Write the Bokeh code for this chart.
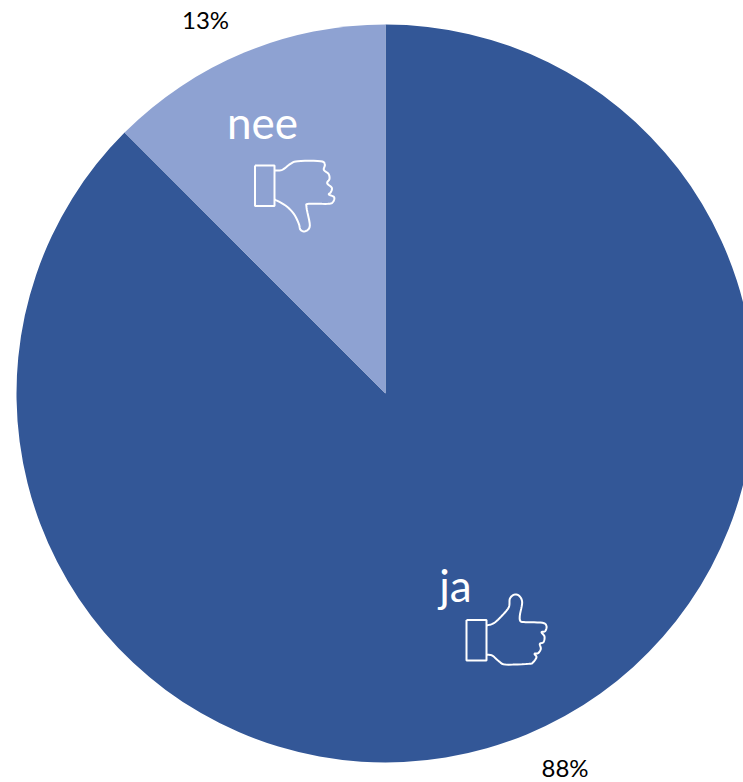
from bokeh.plotting import figure
from bokeh.embed import file_html
from bokeh.resources import INLINE
from bokeh.core.properties import value
import numpy as np

categories = ["ja", "nee"]
shares = [87.5, 12.5]
pct_labels = ["88%", "13%"]
colors = ["#335797", "#8EA2D2"]

CX, CY, R = 385, 393, 369
W, H = 743, 782
FONT = "Lato"

p = figure(width=W, height=H, x_range=(-CX, W - CX), y_range=(CY - H, CY),
           output_backend="svg", toolbar_location=None, min_border=0,
           outline_line_color=None, background_fill_color="white")
p.axis.visible = False
p.grid.visible = False

def X(x): return [v - CX for v in x]
def Y(y): return [CY - v for v in y]

fr = np.cumsum([0] + shares) / sum(shares)
starts = np.pi / 2 - 2 * np.pi * fr[:-1]
ends = np.pi / 2 - 2 * np.pi * fr[1:]
p.wedge(x=[0, 0], y=[0, 0], radius=R, start_angle=ends, end_angle=starts,
        fill_color=colors, line_color=None)

def smooth(pts, n=6):
    pts = np.array(pts, float)
    q = np.vstack([pts[0], pts, pts[-1]])
    out = []
    for i in range(1, len(q) - 2):
        a, b, c, d = q[i - 1], q[i], q[i + 1], q[i + 2]
        for t in np.linspace(0, 1, n, endpoint=False):
            out.append(0.5 * (2 * b + (c - a) * t + (2 * a - 5 * b + 4 * c - d) * t**2 + (3 * b - a - 3 * c + d) * t**3))
    out.append(pts[-1])
    return np.array(out)

down = [(192,240),(215,238),(240,220),(262,212),(330,212),(343,222),(340,238),(354,250),(357,265),(350,278),
        (364,292),(361,305),(355,312),(371,320),(367,335),(352,340),(295,340),(288,350),(298,405),(285,422),
        (270,418),(265,400),(250,370),(225,345),(192,327)]
up = [(168,195),(190,188),(215,165),(235,140),(238,115),(250,103),(265,105),(275,125),(268,165),(270,182),
      (285,185),(336,187),(348,197),(344,212),(333,215),(342,228),(339,245),(328,250),(331,265),(323,278),
      (312,280),(318,290),(308,305),(295,310),(225,312),(205,302),(185,285),(168,283)]

def draw(path, ox, oy, cuff):
    s = smooth(path)
    p.line(X(s[:, 0] / 3 + ox), Y(s[:, 1] / 3 + oy), line_color="white", line_width=2)
    x0, x1, y0, y1 = cuff
    p.line(X([x0, x1, x1, x0, x0]), Y([y0, y0, y1, y1, y0]), line_color="white", line_width=2)

draw(down, 210, 90, (254.5, 274, 165, 205.5))
draw(up, 430, 560, (466, 486, 619.5, 660))

p.text(x=X([262, 455]), y=Y([121, 584]), text=["nee", "ja"], text_color="white",
       text_font=value(FONT), text_font_size="44px", text_align="center", text_baseline="middle")
p.text(x=X([205, 564.5]), y=Y([19, 767]), text=[pct_labels[1], pct_labels[0]], text_color="black",
       text_font=value(FONT), text_font_size="24px", text_align="center", text_baseline="middle")

open("out.html", "w").write(file_html(p, INLINE))
